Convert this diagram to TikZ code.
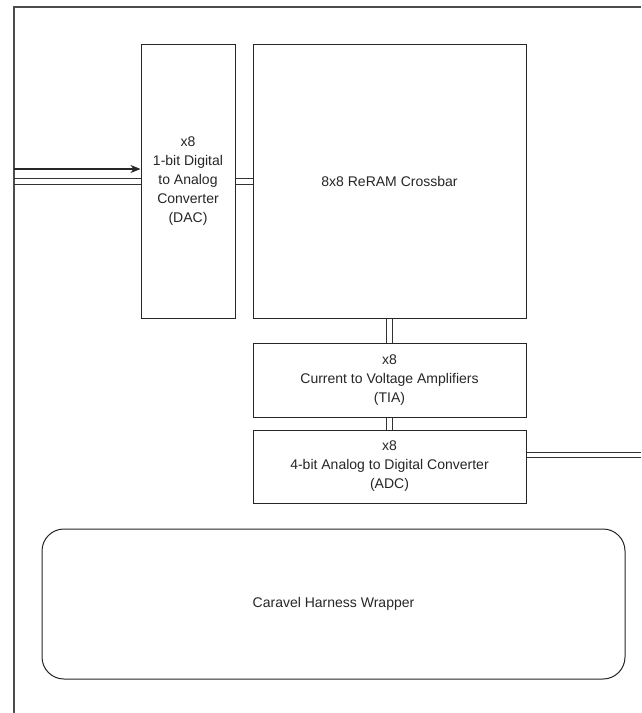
\documentclass[tikz,border=0pt]{standalone}
\usepackage{fontspec}
\setmainfont{Liberation Sans}
\usetikzlibrary{arrows.meta}
\begin{document}
\begin{tikzpicture}[x=1pt,y=-1pt,
  blk/.style={draw=black!85, line width=1pt, inner sep=0pt, align=center,
    font=\fontsize{14}{19}\selectfont, text=black!85},
  wire/.style={draw=black!85, line width=1.1pt},
  bw/.style={draw=black!80, line width=0.9pt}]
\useasboundingbox (0,0) rectangle (641,713);
\fill[white] (0,0) rectangle (641,713);
\draw[black!70, line width=1.2pt] (641,7) -- (14,7) -- (14,713);
\node[blk, minimum width=94pt, minimum height=274pt] (dac) at (188,181.5)
  {x8\\1-bit Digital\\to Analog\\Converter\\(DAC)};
\node[blk, minimum width=273pt, minimum height=274pt] (xbar) at (389.5,181.5)
  {8x8 ReRAM Crossbar};
\node[blk, minimum width=273pt, minimum height=74pt] (tia) at (389.5,380)
  {x8\\Current to Voltage Amplifiers\\(TIA)};
\node[blk, minimum width=273pt, minimum height=73pt] (adc) at (389.5,466.5)
  {x8\\4-bit Analog to Digital Converter\\(ADC)};
\node[blk, rounded corners=22pt, minimum width=583pt, minimum height=150pt] (cvl) at (333.5,604)
  {Caravel Harness Wrapper};
\coordinate (inA) at (14,169);
\coordinate (inB) at (14,181.5);
\coordinate (out) at (641,455);
\draw[wire, -{Stealth[length=10pt,width=8pt,inset=3pt]}] (inA) -- (dac.west |- inA);
% double buses drawn as two parallel lines
\draw[bw] ([yshift=2.8pt]inB) -- ([yshift=2.8pt]dac.west)
          ([yshift=-2.8pt]inB) -- ([yshift=-2.8pt]dac.west);
\draw[bw] ([yshift=2.8pt]dac.east) -- ([yshift=2.8pt]xbar.west)
          ([yshift=-2.8pt]dac.east) -- ([yshift=-2.8pt]xbar.west);
\draw[bw] ([xshift=2.8pt]xbar.south) -- ([xshift=2.8pt]tia.north)
          ([xshift=-2.8pt]xbar.south) -- ([xshift=-2.8pt]tia.north);
\draw[bw] ([xshift=2.8pt]tia.south) -- ([xshift=2.8pt]adc.north)
          ([xshift=-2.8pt]tia.south) -- ([xshift=-2.8pt]adc.north);
\draw[bw] ([yshift=2.8pt]adc.east |- out) -- ([yshift=2.8pt]out)
          ([yshift=-2.8pt]adc.east |- out) -- ([yshift=-2.8pt]out);
\end{tikzpicture}
\end{document}
